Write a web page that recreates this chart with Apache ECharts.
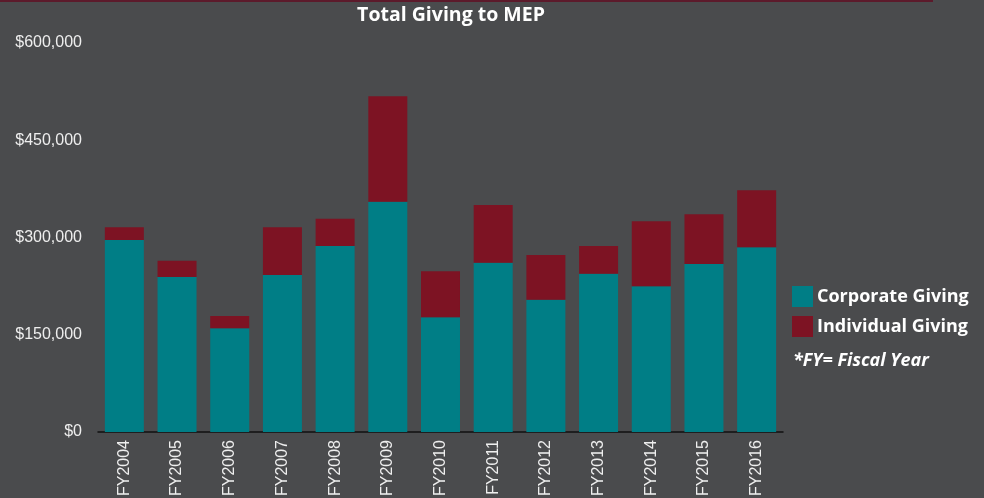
<html>
    <head>
        <meta charset="utf-8">
        <script src="https://cdn.jsdelivr.net/npm/echarts@6/dist/echarts.min.js"></script>
        <style>
            html, body { margin: 0; padding: 0; background: #4a4b4d; }
            #main { width: 984px; height: 498px; }
        </style>
    </head>
    <body>
        <div id="main"></div>
        <script>

        var years = ['FY2004', 'FY2005', 'FY2006', 'FY2007', 'FY2008', 'FY2009', 'FY2010',
                     'FY2011', 'FY2012', 'FY2013', 'FY2014', 'FY2015', 'FY2016'];
        var corporate = [296000, 239000, 160000, 242000, 287000, 355000, 177000,
                         261000, 204000, 244000, 225000, 259000, 285000];
        var individual = [20000, 25000, 19000, 74000, 42000, 163000, 71000,
                          89000, 69000, 43000, 100000, 77000, 88000];
        var yTicks = [0, 150000, 300000, 450000, 600000];

        var myChart = echarts.init(document.getElementById('main'));

        function money(v) {
            return '$' + v.toLocaleString('en-US');
        }

        option = {
            backgroundColor: '#4a4b4d',
            animation: false,
            title: {
                text: 'Total Giving to MEP',
                left: 446,
                top: 0,
                textAlign: 'center',
                textStyle: {
                    color: '#ffffff',
                    fontSize: 19.5,
                    fontWeight: 'bold',
                    fontFamily: '"Open Sans", sans-serif'
                }
            },
            graphic: [
                {
                    type: 'rect',
                    shape: { x: 0, y: 0, width: 933, height: 2 },
                    style: { fill: '#5c1a2b' }
                },
                {
                    type: 'text',
                    left: 793,
                    top: 352,
                    style: {
                        text: '*FY= Fiscal Year',
                        fill: '#ffffff',
                        font: 'italic bold 18px "Open Sans", sans-serif'
                    }
                }
            ],
            legend: {
                orient: 'vertical',
                left: 787,
                top: 281,
                itemWidth: 21,
                itemHeight: 21,
                itemGap: 9,
                icon: 'rect',
                data: ['Corporate Giving', 'Individual Giving'],
                textStyle: {
                    color: '#ffffff',
                    fontSize: 18,
                    fontWeight: 'bold',
                    fontFamily: '"Open Sans", sans-serif',
                    padding: [4, 0, 0, -1]
                }
            },
            grid: {
                left: 98,
                right: 201,
                top: 43,
                bottom: 66,
                outerBoundsMode: 'none'
            },
            xAxis: {
                type: 'category',
                data: years,
                axisTick: { show: false },
                axisLine: {
                    lineStyle: { color: '#111111', width: 1.5 }
                },
                axisLabel: {
                    rotate: 90,
                    margin: 8,
                    color: '#eeeeee',
                    fontSize: 16,
                    fontFamily: '"Liberation Sans", Arial, sans-serif'
                }
            },
            yAxis: {
                type: 'value',
                min: yTicks[0],
                max: yTicks[yTicks.length - 1],
                interval: yTicks[1] - yTicks[0],
                axisLine: { show: false },
                axisTick: { show: false },
                splitLine: { show: false },
                axisLabel: {
                    margin: 16,
                    color: '#eeeeee',
                    fontSize: 16,
                    fontFamily: '"Liberation Sans", Arial, sans-serif',
                    formatter: money
                }
            },
            series: [
                {
                    name: 'Corporate Giving',
                    type: 'bar',
                    stack: 'total',
                    barCategoryGap: '26%',
                    data: corporate,
                    itemStyle: { color: '#007e86' }
                },
                {
                    name: 'Individual Giving',
                    type: 'bar',
                    stack: 'total',
                    data: individual,
                    itemStyle: { color: '#7d1323' }
                }
            ]
        };

        myChart.setOption(option);

        </script>
    </body>
</html>
